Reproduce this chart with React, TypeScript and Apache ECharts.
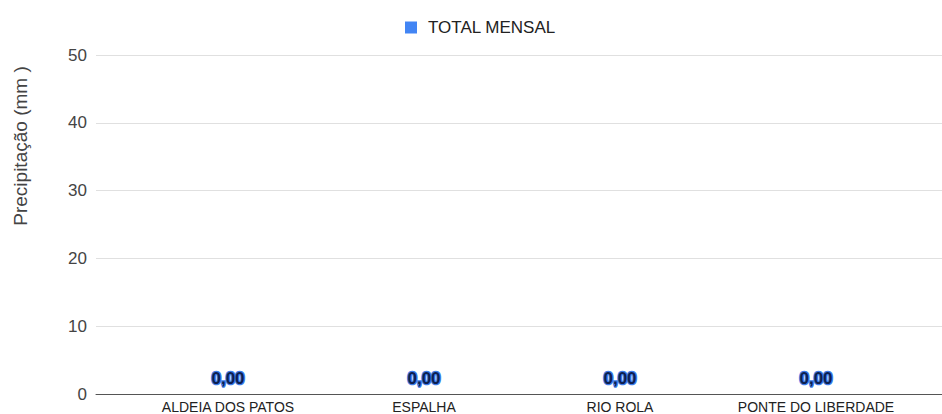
import React, { useEffect, useRef } from "react";
import * as echarts from "echarts";

const categories = ["ALDEIA DOS PATOS", "ESPALHA", "RIO ROLA", "PONTE DO LIBERDADE"];
const totalMensal = [0, 0, 0, 0];
const yTicks = { min: 0, max: 50, interval: 10 };
const seriesName = "TOTAL MENSAL";
const yAxisName = "Precipitação (mm )";

export default function App() {
  const ref = useRef<HTMLDivElement>(null);
  useEffect(() => {
    if (!ref.current) return;
    const chart = echarts.init(ref.current, null, { renderer: "svg" });
    const font = "'Liberation Sans', Arial, sans-serif";
    chart.setOption({
      animation: false,
      textStyle: { fontFamily: font },
      legend: {
        top: 14,
        left: 400,
        itemWidth: 12,
        itemHeight: 12,
        icon: "rect",
        textStyle: { fontSize: 17, color: "#222", fontFamily: font, padding: [0, 0, 0, 6] },
        data: [seriesName],
      },
      grid: [
        { left: 96, right: 0, top: 55, bottom: 20, containLabel: false },
        { left: 130, width: 784, top: 55, bottom: 20, containLabel: false },
      ],
      xAxis: [
        {
          type: "category",
          gridIndex: 0,
          data: categories,
          axisLine: { show: true, lineStyle: { color: "#555", width: 1 } },
          axisTick: { show: false },
          axisLabel: { show: false },
          splitLine: { show: false },
        },
        {
          type: "category",
          gridIndex: 1,
          data: categories,
          axisLine: { show: false },
          axisTick: { show: false },
          axisLabel: { color: "#222", fontSize: 14, margin: 6, fontFamily: font, interval: 0 },
          splitLine: { show: false },
        },
      ],
      yAxis: [
        {
          type: "value",
          gridIndex: 0,
          min: yTicks.min,
          max: yTicks.max,
          interval: yTicks.interval,
          axisLine: { show: false },
          axisTick: { show: false },
          axisLabel: { color: "#444", fontSize: 17, margin: 9, fontFamily: font },
          splitLine: { show: true, lineStyle: { color: "#e0e0e0", width: 1 } },
        },
        {
          type: "value",
          gridIndex: 1,
          min: yTicks.min,
          max: yTicks.max,
          interval: yTicks.interval,
          show: false,
          splitLine: { show: false },
        },
      ],
      graphic: [
        {
          type: "text",
          x: 20,
          y: 146,
          rotation: Math.PI / 2,
          style: {
            text: yAxisName,
            fontSize: 19,
            fill: "#444",
            fontFamily: font,
            align: "center",
            verticalAlign: "middle",
          },
        },
      ],
      series: [
        {
          name: seriesName,
          type: "bar",
          xAxisIndex: 1,
          yAxisIndex: 1,
          data: totalMensal,
          barWidth: "60%",
          itemStyle: { color: "#4285f4" },
          label: {
            show: true,
            position: "top",
            distance: 7,
            formatter: (p: any) => p.value.toFixed(2).replace(".", ","),
            color: "#0d1f4f",
            fontWeight: "bold",
            fontSize: 17,
            fontFamily: font,
            textBorderColor: "#3d7be8",
            textBorderWidth: 2.5,
          },
        },
      ],
    });
    return () => chart.dispose();
  }, []);
  return <div ref={ref} style={{ width: 942, height: 414, position: "absolute", left: 0, top: 0 }} />;
}
